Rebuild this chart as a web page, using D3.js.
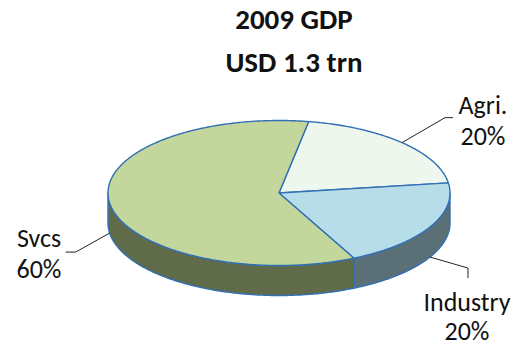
<!DOCTYPE html>
<html>
<head>
<meta charset="utf-8">
<script src="https://cdn.jsdelivr.net/npm/d3@7/dist/d3.min.js"></script>
<style>
  html, body { margin: 0; padding: 0; background: #fff; }
  svg { display: block; }
  text { font-family: Carlito, Calibri, Lato, "Open Sans", sans-serif; fill: #111; }
</style>
</head>
<body>
<svg id="chart" width="515" height="347"></svg>
<script>
// GDP composition, 2009
const categories = ["Agri.", "Industry", "Svcs"];
const shares = [20, 20, 60];
const titleLines = ["2009 GDP", "USD 1.3 trn"];

// Colours for the slice tops and their darker rims
const topColors = ["#EEF7EE", "#B7DDE8", "#C3D69B"];
const sideColors = ["#8A9488", "#5B6F77", "#606B4A"];
const edgeColor = "#3170B4";

// Label layout: leader elbow/end offsets from the slice's anchor point, text centre, line gap
const labelLayout = [
  { elbow: [43, -25], end: [51, -25], text: [483, 114], gap: 31, rim: false },
  { elbow: [38, 11], end: [38, 21], text: [467, 311], gap: 29, rim: true },
  { elbow: [-34, 19], end: [-44, 19], text: [39, 247], gap: 31, rim: true }
];

const W = 515, H = 347;
const cx = 279, cy = 193, rx = 171, ry = 72.5, depth = 30;

const svg = d3.select("#chart");

// Title
svg.selectAll("text.title")
  .data(titleLines)
  .join("text")
  .attr("class", "title")
  .attr("x", 294)
  .attr("y", (d, i) => 29 + i * 43)
  .attr("text-anchor", "middle")
  .style("font-weight", "bold")
  .style("font-size", "29px")
  .text(d => d);

const data = categories.map((c, i) => ({ name: c, value: shares[i], i }));

const pie = d3.pie()
  .value(d => d.value)
  .sort(null)
  .startAngle(10 * Math.PI / 180)
  .endAngle(10 * Math.PI / 180 + 2 * Math.PI);

const arcs = pie(data);

// Point on the tilted ellipse at pie angle a (0 = 12 o'clock, clockwise), lowered by dz
function pt(a, dz = 0) {
  return [cx + rx * Math.sin(a), cy - ry * Math.cos(a) + dz];
}
function sample(a0, a1, dz) {
  const n = Math.max(2, Math.ceil(Math.abs(a1 - a0) / 0.01));
  return d3.range(n + 1).map(k => pt(a0 + (a1 - a0) * k / n, dz));
}

const line = d3.line();
const frontStart = Math.PI / 2, frontEnd = 3 * Math.PI / 2;

// Rim faces: the part of each slice that lies on the near half of the ellipse
const sideG = svg.append("g");
arcs.forEach(d => {
  [0, 2 * Math.PI].forEach(shift => {
    const a0 = Math.max(d.startAngle, frontStart + shift);
    const a1 = Math.min(d.endAngle, frontEnd + shift);
    if (a1 <= a0) return;
    const top = sample(a0, a1, 0);
    const bottom = sample(a1, a0, depth);
    sideG.append("path")
      .attr("d", line(top.concat(bottom)) + "Z")
      .attr("fill", sideColors[d.data.i])
      .attr("stroke", edgeColor)
      .attr("stroke-width", 1.4)
      .attr("stroke-linejoin", "round");
  });
});

// Slice tops
const topG = svg.append("g");
arcs.forEach(d => {
  const pts = [[cx, cy]].concat(sample(d.startAngle, d.endAngle, 0));
  topG.append("path")
    .attr("d", line(pts) + "Z")
    .attr("fill", topColors[d.data.i])
    .attr("stroke", edgeColor)
    .attr("stroke-width", 1.4)
    .attr("stroke-linejoin", "round");
});

// Leader lines and labels
const labG = svg.append("g");
arcs.forEach(d => {
  const L = labelLayout[d.data.i];
  const mid = (d.startAngle + d.endAngle) / 2;
  const p0 = pt(mid, L.rim ? depth : 0);
  const p1 = [p0[0] + L.elbow[0], p0[1] + L.elbow[1]];
  const p2 = [p0[0] + L.end[0], p0[1] + L.end[1]];
  labG.append("path")
    .attr("d", line([p0, p1, p2]))
    .attr("fill", "none")
    .attr("stroke", "#222")
    .attr("stroke-width", 1);
  const t = labG.append("text")
    .attr("text-anchor", "middle")
    .style("font-size", "26px");
  t.append("tspan").attr("x", L.text[0]).attr("y", L.text[1]).text(d.data.name);
  t.append("tspan").attr("x", L.text[0]).attr("y", L.text[1] + L.gap).text(d.data.value + "%");
});
</script>
</body>
</html>
